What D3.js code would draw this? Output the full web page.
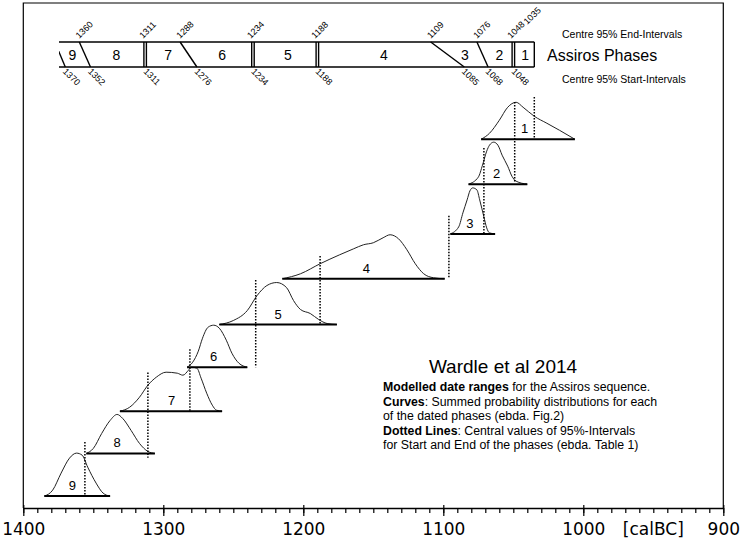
<!DOCTYPE html>
<html>
<head>
<meta charset="utf-8">
<script src="https://cdn.jsdelivr.net/npm/d3@7"></script>
<style>
body { margin: 0; background: #fff; }
svg { display: block; }
</style>
</head>
<body>
<div id="chart"></div>
<script>
// phases, oldest first (as drawn left to right)
var phases = ["9", "8", "7", "6", "5", "4", "3", "2", "1"];
// centre values of the 95% intervals, calBC
var phaseEnd   = [1360, 1311, 1288, 1234, 1188, 1109, 1076, 1048, 1035];
var phaseStart = [1370, 1352, 1311, 1276, 1234, 1188, 1085, 1068, 1048];
var barFrom = 1374.5;      // left end of the phase bar
var phase9TopFrom = 1377.5; // top of the (cut) start line of phase 9

// summed probability curves (year, relative probability), phase 9 .. 1
var curveYears = [
  [1385,1379,1373,1367,1362,1358,1354,1348,1343,1338],
  [1355,1350,1344,1338,1333,1329,1323,1317,1311,1306],
  [1331,1324,1317,1311,1305,1298,1290,1286,1282,1280,1276,1273,1269,1265,1262,1258],
  [1283,1279,1275,1272,1268,1264,1260,1255,1251,1246,1240],
  [1260,1250,1240,1233,1226,1219,1212,1207,1202,1195,1189,1183,1176],
  [1215,1202,1188,1174,1164,1157,1150,1143,1138,1132,1126,1120,1114,1107,1099],
  [1095,1089,1086,1083,1081,1079,1076,1074,1071,1069,1067,1063],
  [1082,1075,1072,1069,1067,1064,1061,1058,1054,1051,1048,1040],
  [1073,1067,1060,1054,1048,1043,1035,1026,1017,1006]
];
var curveProb = [
  [0,6,23,38,43,41,29,13,3,0],
  [0,5,20,33,39,35,23,10,2,0],
  [0,4,14,26,34,39,38,36,41,44,43,33,18,6,1,0],
  [0,5,16,29,40,42,39,27,14,4,0],
  [0,4,14,29,39,42,37,24,15,11,5,1,0],
  [0,5,15,24,30,34,36,41,44,40,29,15,5,1,0],
  [0,7,21,34,43,46,44,34,17,6,1,0],
  [0,7,19,33,39,42,39,29,18,8,3,0],
  [0,6,19,32,37,32,23,16,9,0]
];
// stacking level of each curve's baseline
var curveLevel = [0.27, 1.24, 2.20, 3.20, 4.17, 5.21, 6.23, 7.36, 8.38];
// year of the number written inside each curve
var curveLabelYear = [1365, 1333, 1294, 1264, 1218, 1155, 1081, 1062, 1042];

// dotted lines: central values of start / end intervals
var dotYear   = [1356, 1311, 1281, 1234, 1188, 1096, 1071, 1049, 1035];
var dotTop    = [1.50, 3.08, 3.61, 5.18, 5.73, 6.64, 8.18, 9.23, 9.34];
var dotBottom = [0.26, 1.14, 2.20, 3.20, 4.18, 5.23, 6.23, 7.42, 8.38];

var majorTicks = [1400, 1300, 1200, 1100, 1000, 900];
var unitLabel = "[calBC]";
var unitYear = 950;

var noteTitle = "Wardle et al 2014";
var noteLines = [
  [["Modelled date ranges", true], [" for the Assiros sequence.", false]],
  [["Curves", true], [": Summed probability distributions for each", false]],
  [["of the dated phases (ebda. Fig.2)", false]],
  [["Dotted Lines", true], [": Central values of 95%-Intervals", false]],
  [["for Start and End of the phases (ebda. Table 1)", false]]
];

var W = 741, H = 541;
var axisY = 508, frameTop = 3;
var barTop = 42, barBot = 67;
var sans = "'Liberation Sans', Arial, sans-serif";

var svg = d3.select("#chart").append("svg")
  .attr("width", W).attr("height", H);

var x = d3.scaleLinear().domain([1400, 900]).range([23.3, 723.3]);
var yLevel = d3.scaleLinear().domain([0, 10]).range([axisY, axisY - 440]);
var yProb = d3.scaleLinear().domain([0, 50]).range([0, 50]);

// frame
svg.append("path")
  .attr("d", "M" + x(1400) + "," + axisY + "V" + frameTop + "H" + x(900) + "V" + axisY)
  .attr("fill", "none").attr("stroke", "#000").attr("stroke-width", 1.2);

// axis: minor ticks every 10 years, major every 100
svg.append("g")
  .attr("transform", "translate(0," + axisY + ")")
  .call(d3.axisBottom(x).tickValues(d3.range(900, 1401, 10)).tickSize(5).tickFormat(""))
  .call(function(g) { g.select(".domain").remove(); })
  .selectAll("line").attr("stroke-width", 1.2);
var ax = svg.append("g")
  .attr("transform", "translate(0," + axisY + ")")
  .call(d3.axisBottom(x).tickValues(majorTicks).tickSize(8).tickSizeOuter(0).tickPadding(7).tickFormat(d3.format("d")));
ax.select(".domain").attr("stroke-width", 1.5);
ax.selectAll("line").attr("stroke-width", 1.2);
ax.selectAll("text").style("font-family", "'DejaVu Sans', sans-serif").style("font-size", "17px").attr("fill", "#000");
svg.append("g")
  .attr("transform", "translate(0," + axisY + ")")
  .call(d3.axisTop(x).tickValues(majorTicks).tickSize(3).tickFormat(""))
  .call(function(g) { g.select(".domain").remove(); })
  .selectAll("line").attr("stroke-width", 1.2);
svg.append("text")
  .attr("x", x(unitYear)).attr("y", axisY + 27)
  .attr("text-anchor", "middle")
  .style("font-family", "'DejaVu Sans', sans-serif").style("font-size", "17px")
  .text(unitLabel);

// ---- phase bar ----
var bar = svg.append("g");
bar.append("clipPath").attr("id", "barclip")
  .append("rect").attr("x", x(barFrom)).attr("y", 0).attr("width", W).attr("height", H);
bar.append("line").attr("x1", x(barFrom)).attr("x2", x(phaseEnd[8])).attr("y1", barTop).attr("y2", barTop);
bar.append("line").attr("x1", x(barFrom)).attr("x2", x(phaseEnd[8])).attr("y1", barBot).attr("y2", barBot);

// dividing lines: from end of one phase (top) to start of the next (bottom)
var divs = [{t: phase9TopFrom, b: phaseStart[0], off: 0}];
for (var i = 0; i < phases.length - 1; i++) {
  if (phaseEnd[i] === phaseStart[i + 1]) {
    // equal boundary drawn as a double line
    divs.push({t: phaseEnd[i], b: phaseStart[i + 1], off: -4});
    divs.push({t: phaseEnd[i], b: phaseStart[i + 1], off: -1.5});
  } else {
    divs.push({t: phaseEnd[i], b: phaseStart[i + 1], off: 0});
  }
}
divs.push({t: phaseEnd[8], b: phaseEnd[8], off: 0});
bar.selectAll(".div").data(divs).enter().append("line")
  .attr("clip-path", "url(#barclip)")
  .attr("x1", function(d) { return x(d.t) + d.off; })
  .attr("x2", function(d) { return x(d.b) + d.off; })
  .attr("y1", barTop).attr("y2", barBot);
bar.selectAll("line").attr("stroke", "#000").attr("stroke-width", 1.4);

// phase numbers in the bar
var leftB = [(phase9TopFrom + phaseStart[0]) / 2].concat(phaseEnd.slice(0, 8).map(function(e, i) { return (e + phaseStart[i + 1]) / 2; }));
var rightB = leftB.slice(1).concat([phaseEnd[8]]);
bar.selectAll(".pn").data(phases).enter().append("text")
  .attr("x", function(d, i) { return x((leftB[i] + rightB[i]) / 2); })
  .attr("y", (barTop + barBot) / 2 + 5)
  .attr("text-anchor", "middle")
  .style("font-family", sans).style("font-size", "14px")
  .text(function(d) { return d; });

// boundary values, rotated
bar.selectAll(".tl").data(phaseEnd).enter().append("text")
  .attr("transform", function(d, i) {
    var last = i === phaseEnd.length - 1;
    var dbl = phaseEnd[i] === phaseStart[i + 1] ? -5 : 0;
    return "translate(" + (x(d) + (last ? -7 : dbl)) + "," + (barTop - (last ? 17 : 3)) + ") rotate(-45)";
  })
  .style("font-family", sans).style("font-size", "9px")
  .text(function(d) { return d; });
bar.selectAll(".bl").data(phaseStart).enter().append("text")
  .attr("transform", function(d, i) {
    var dbl = i > 0 && phaseStart[i] === phaseEnd[i - 1] ? -2 : 0;
    return "translate(" + (x(d) - 3 + dbl) + "," + (barBot + 5) + ") rotate(45)";
  })
  .style("font-family", sans).style("font-size", "9px")
  .text(function(d) { return d; });

svg.append("text").attr("x", 562).attr("y", 38)
  .style("font-family", sans).style("font-size", "10.5px")
  .text("Centre 95% End-Intervals");
svg.append("text").attr("x", 547).attr("y", 61)
  .style("font-family", sans).style("font-size", "16px")
  .text("Assiros Phases");
svg.append("text").attr("x", 562).attr("y", 83)
  .style("font-family", sans).style("font-size", "10.5px")
  .text("Centre 95% Start-Intervals");

// ---- curves ----
var curveData = phases.map(function(p, i) {
  return {
    name: p,
    level: curveLevel[i],
    labelYear: curveLabelYear[i],
    values: curveYears[i].map(function(yr, j) { return {year: yr, prob: curveProb[i][j]}; })
  };
});

var g = svg.append("g");
var curveG = g.selectAll(".curve").data(curveData).enter().append("g");

curveG.append("path")
  .attr("d", function(d) {
    var base = yLevel(d.level);
    return d3.line()
      .x(function(v) { return x(v.year); })
      .y(function(v) { return base - yProb(v.prob); })
      .curve(d3.curveMonotoneX)(d.values);
  })
  .attr("fill", "none").attr("stroke", "#222").attr("stroke-width", 1);

curveG.append("line")
  .attr("x1", function(d) { return x(d.values[0].year); })
  .attr("x2", function(d) { return x(d.values[d.values.length - 1].year); })
  .attr("y1", function(d) { return yLevel(d.level); })
  .attr("y2", function(d) { return yLevel(d.level); })
  .attr("stroke", "#000").attr("stroke-width", 2);

curveG.append("text")
  .attr("x", function(d) { return x(d.labelYear); })
  .attr("y", function(d) { return yLevel(d.level) - 6; })
  .attr("text-anchor", "middle")
  .style("font-family", sans).style("font-size", "13px")
  .text(function(d) { return d.name; });

// dotted lines
g.selectAll(".dot").data(dotYear).enter().append("line")
  .attr("x1", function(d) { return x(d); })
  .attr("x2", function(d) { return x(d); })
  .attr("y1", function(d, i) { return yLevel(dotTop[i]); })
  .attr("y2", function(d, i) { return yLevel(dotBottom[i]); })
  .attr("stroke", "#000").attr("stroke-width", 1.5)
  .attr("stroke-dasharray", "1.5,1.5");

// ---- note ----
svg.append("text").attr("x", 503).attr("y", 373)
  .attr("text-anchor", "middle")
  .style("font-family", sans).style("font-size", "19px")
  .text(noteTitle);
var note = svg.append("text").style("font-family", sans).style("font-size", "12.3px");
noteLines.forEach(function(line, i) {
  line.forEach(function(part, j) {
    var t = note.append("tspan").text(part[0])
      .style("font-weight", part[1] ? "bold" : "normal");
    if (j === 0) t.attr("x", 383).attr("y", 391 + i * 14.5);
  });
});
</script>
</body>
</html>
